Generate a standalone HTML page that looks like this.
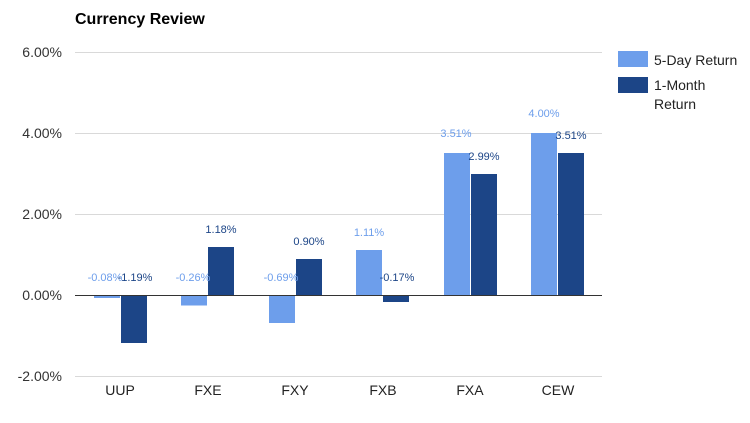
<!DOCTYPE html>
<html><head><meta charset="utf-8"><style>body{margin:0;background:#fff}</style></head>
<body>
<svg width="750" height="418" xmlns="http://www.w3.org/2000/svg" font-family="Liberation Sans, Arial, sans-serif">
<text x="75" y="24" font-size="16" font-weight="bold" fill="#000">Currency Review</text>
<g stroke="#d9d9d9" stroke-width="1">
<line x1="75" x2="602" y1="52.5" y2="52.5"/>
<line x1="75" x2="602" y1="133.5" y2="133.5"/>
<line x1="75" x2="602" y1="214.5" y2="214.5"/>
<line x1="75" x2="602" y1="376.5" y2="376.5"/>
</g>
<g font-size="14" fill="#333" text-anchor="end">
<text x="62" y="57">6.00%</text><text x="62" y="138">4.00%</text><text x="62" y="219">2.00%</text><text x="62" y="300">0.00%</text><text x="62" y="381">-2.00%</text>
</g>
<g fill="#6d9eeb">
<rect x="94" y="295" width="26" height="3"/>
<rect x="181" y="295" width="26" height="10.5"/>
<rect x="269" y="295" width="26" height="28"/>
<rect x="356" y="250" width="26" height="45"/>
<rect x="444" y="153" width="26" height="142"/>
<rect x="531" y="133" width="26" height="162"/>
</g>
<g fill="#1c4587">
<rect x="121" y="295" width="26" height="48"/>
<rect x="208" y="247" width="26" height="48"/>
<rect x="296" y="259" width="26" height="36"/>
<rect x="383" y="295" width="26" height="7"/>
<rect x="471" y="174" width="26" height="121"/>
<rect x="558" y="153" width="26" height="142"/>
</g>
<line x1="75" x2="602" y1="295.5" y2="295.5" stroke="#333" stroke-width="1"/>
<g font-size="11" text-anchor="middle">
<g fill="#6d9eeb">
<text x="105" y="281">-0.08%</text><text x="193" y="281">-0.26%</text><text x="281" y="281">-0.69%</text>
<text x="369" y="236">1.11%</text><text x="456" y="137">3.51%</text><text x="544" y="117">4.00%</text>
</g>
<g fill="#1c4587">
<text x="135" y="281">-1.19%</text><text x="221" y="233">1.18%</text><text x="309" y="245">0.90%</text>
<text x="397" y="281">-0.17%</text><text x="484" y="160">2.99%</text><text x="571" y="139">3.51%</text>
</g>
</g>
<g font-size="14" fill="#222" text-anchor="middle">
<text x="120" y="395">UUP</text><text x="208" y="395">FXE</text><text x="295" y="395">FXY</text>
<text x="383" y="395">FXB</text><text x="470" y="395">FXA</text><text x="558" y="395">CEW</text>
</g>
<rect x="618" y="51" width="30" height="16" fill="#6d9eeb"/>
<rect x="618" y="77" width="30" height="16" fill="#1c4587"/>
<g font-size="14" fill="#222">
<text x="654" y="65">5-Day Return</text>
<text x="654" y="90">1-Month</text>
<text x="654" y="109">Return</text>
</g>
</svg>
</body></html>
